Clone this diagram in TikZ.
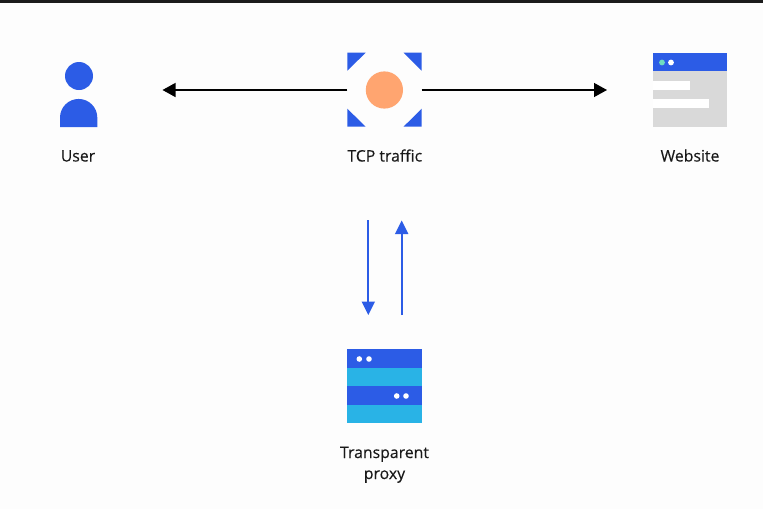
\documentclass[tikz,border=0pt]{standalone}
\usepackage{fontspec}
\setmainfont[FakeBold=0.25]{Open Sans}
\usetikzlibrary{arrows.meta}
\definecolor{cfblue}{HTML}{2C5CE6}
\definecolor{cfcyan}{HTML}{29B3E6}
\definecolor{cforange}{HTML}{FFA570}
\definecolor{cfgray}{HTML}{D9D9D9}
\definecolor{cfmint}{HTML}{6FDDC0}
\definecolor{cfbg}{HTML}{FDFDFD}
\definecolor{cfbar}{HTML}{1C1C1C}
\tikzset{
  icon/.style={minimum size=74.4pt,inner sep=0pt,outer sep=0pt},
  lbl/.style={font=\fontsize{15.8}{21}\selectfont,text=black!90,align=center,inner sep=0pt,anchor=base},
  blackarrow/.style={draw=black,line width=1.3pt,-{Triangle[length=13pt,width=14pt]}},
  bluearrow/.style={draw=cfblue,line width=1.9pt,-{Triangle[length=13.5pt,width=13pt]}},
  dotw/.style={fill=white,draw=none},
}
\begin{document}
\begin{tikzpicture}[x=1pt,y=-1pt]
\useasboundingbox (0,0) rectangle (763,509);
\fill[cfbg] (0,0) rectangle (763,509);
\fill[cfbar] (0,0) rectangle (763,3);

% named icon frames
\node[icon] (user) at (78.7,90) {};
\node[icon] (tcp) at (384.5,90) {};
\node[icon] (website) at (690,90) {};
\node[icon] (proxy) at (384.5,386.2) {};
\coordinate (userend) at (162.5,90);
\coordinate (webend) at (607,90);
\coordinate (downstart) at (368.3,220);
\coordinate (downend) at (368.3,315);
\coordinate (upstart) at (401.7,315);
\coordinate (upend) at (401.7,220.5);

% user
\fill[cfblue] (79,76) circle (14);
\fill[cfblue] (60,127) -- (60,117.6) arc[start angle=180,end angle=360,radius=18.65] -- (97.3,127) -- cycle;

% TCP
\fill[cfblue] (347.3,52.7) -- (365.7,52.7) -- (347.3,70.7) -- cycle;
\fill[cfblue] (421.7,52.7) -- (403.5,52.7) -- (421.7,70.7) -- cycle;
\fill[cfblue] (347.3,126.7) -- (365.7,126.7) -- (347.3,108.7) -- cycle;
\fill[cfblue] (421.7,126.7) -- (403.5,126.7) -- (421.7,108.7) -- cycle;
\fill[cforange] (384.4,90) circle (18.6);

% website
\fill[cfgray] (653,71) rectangle (727,127);
\fill[cfblue] (653,53) rectangle (727,71);
\fill[cfmint] (662,62.5) circle (2.9);
\fill[white] (671,62.5) circle (2.9);
\fill[white] (653,80.7) rectangle (690,90);
\fill[white] (653,99) rectangle (709,108.3);

% proxy
\fill[cfblue] (347.3,349) rectangle (421.7,368);
\fill[cfcyan] (347.3,368) rectangle (421.7,386);
\fill[cfblue] (347.3,386) rectangle (421.7,405);
\fill[cfcyan] (347.3,405) rectangle (421.7,423.4);
\foreach \p in {(359.3,359),(369,359),(396.7,396),(406,396)} \fill[dotw] \p circle (2.8);

% labels
\node[lbl] (userlabel) at (78,161.5) {User};
\node[lbl] (tcplabel) at (384.8,161.5) {TCP traffic};
\node[lbl] (weblabel) at (690,161.5) {Website};
\node[lbl] (proxylabel) at (384.5,479) {Transparent\\proxy};

% connectors
\draw[blackarrow] (tcp.west) -- (userend);
\draw[blackarrow] (tcp.east) -- (webend);
\draw[bluearrow] (downstart) -- (downend);
\draw[bluearrow] (upstart) -- (upend);
\end{tikzpicture}
\end{document}
